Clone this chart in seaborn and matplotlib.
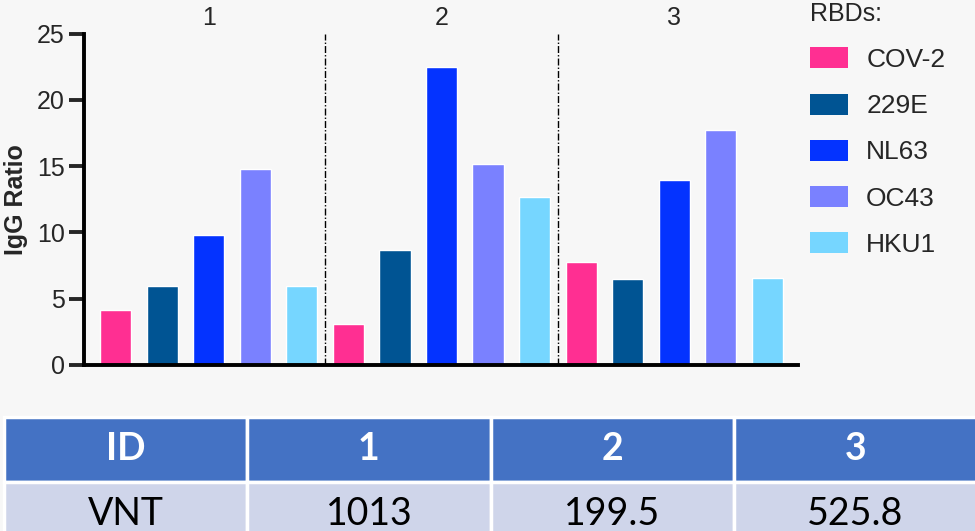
import numpy as np
import pandas as pd
import matplotlib
matplotlib.use('Agg')
import matplotlib.pyplot as plt
import seaborn as sns
from matplotlib.patches import Patch


# data
patients = ['1', '2', '3']
rbds = ['COV-2', '229E', 'NL63', 'OC43', 'HKU1']
igg_p1 = [4.15, 5.97, 9.8, 14.75, 5.97]
igg_p2 = [3.07, 8.65, 22.45, 15.15, 12.65]
igg_p3 = [7.75, 6.47, 13.95, 17.75, 6.55]
vnt = ['1013', '199.5', '525.8']

COLORMAP = {'COV-2':'#FF2F92', '229E':'#005493', 'NL63':'#0433FF', 'OC43':'#7A81FF', 'HKU1':'#76D6FF'}
BG = '#F7F7F7'
FONT = 'Liberation Sans'

rows = []
for pid, vals in zip(patients, [igg_p1, igg_p2, igg_p3]):
    for rbd, val in zip(rbds, vals):
        rows.append({'slot':f'{pid}-{rbd}', 'patient':pid, 'rbd':rbd, 'igg':val})
df = pd.DataFrame(rows)

sns.set_style('ticks', rc = {'axes.facecolor':BG, 'figure.facecolor':BG})
plt.rcParams['font.family'] = [FONT, 'DejaVu Sans']

fig = plt.figure(figsize = (9.75, 5.31), dpi = 100)
ax = fig.add_axes([84/975, (531-365)/531, (798-84)/975, (365-33.5)/531])
sns.barplot(data = df, x = 'slot', y = 'igg', hue = 'rbd', palette = COLORMAP, dodge = False,
            width = 0.67, saturation = 1, legend = False, ax = ax)

ax.set_xlim(-0.68, 14.66)
ax.set_ylim(0, 25)
ax.set_yticks([0, 5, 10, 15, 20, 25])
ax.set_xticks([])
ax.set_xlabel('')
ax.set_ylabel('IgG Ratio', fontsize = 18, fontweight = 'bold', family = FONT, labelpad = 6)
ax.tick_params(axis = 'y', labelsize = 18, length = 11, width = 2.8, direction = 'out', pad = 3)
for lbl in ax.get_yticklabels():
    lbl.set_family(FONT)
for s in ['top', 'right']:
    ax.spines[s].set_visible(False)
for s in ['left', 'bottom']:
    ax.spines[s].set_linewidth(2.8)
    ax.spines[s].set_color('black')

# dividers between patients and patient labels on top
n = len(rbds)
for i in range(1, len(patients)):
    ax.axvline(i*n - 0.5, color = 'black', lw = 1, linestyle = (0, (5, 1.5, 1, 1.5)), zorder = 0.5)
for i, pid in enumerate(patients):
    ax.text(i*n + (n-1)/2, 26.15, pid, ha = 'center', va = 'center', fontsize = 18, family = FONT, clip_on = False)

handles = [Patch(facecolor = COLORMAP[r], edgecolor = 'none', label = r) for r in rbds]
leg = fig.legend(handles = handles, title = 'RBDs:', loc = 'upper left', bbox_to_anchor = (810/975, 0.997),
                 frameon = False, prop = {'family':FONT, 'size':19}, alignment = 'left',
                 borderpad = 0, borderaxespad = 0,
                 handlelength = 1.45, handleheight = 0.85, handletextpad = 0.68, labelspacing = 0.82)
leg.get_title().set_fontsize(18)
leg.get_title().set_family(FONT)

# VNT table below the chart
tab = fig.add_axes([4/975, (531-546)/531, 973/975, 129/531])
tab.set_axis_off()
cells = [['ID'] + patients, ['VNT'] + vnt]
table = tab.table(cellText = cells, cellLoc = 'center', bbox = [0, 0, 1, 1],
                  cellColours = [['#4472C4']*4, ['#CFD5EA']*4])
table.auto_set_font_size(False)
for (r, c), cell in table.get_celld().items():
    cell.set_edgecolor('white')
    cell.set_linewidth(2.5)
    txt = cell.get_text()
    txt.set_fontfamily('Lato')
    txt.set_fontsize(27)
    if r == 0:
        txt.set_color('white')
        txt.set_fontweight('bold')
    else:
        txt.set_color('black')

fig.savefig('out.png', dpi = 100, facecolor = BG)
